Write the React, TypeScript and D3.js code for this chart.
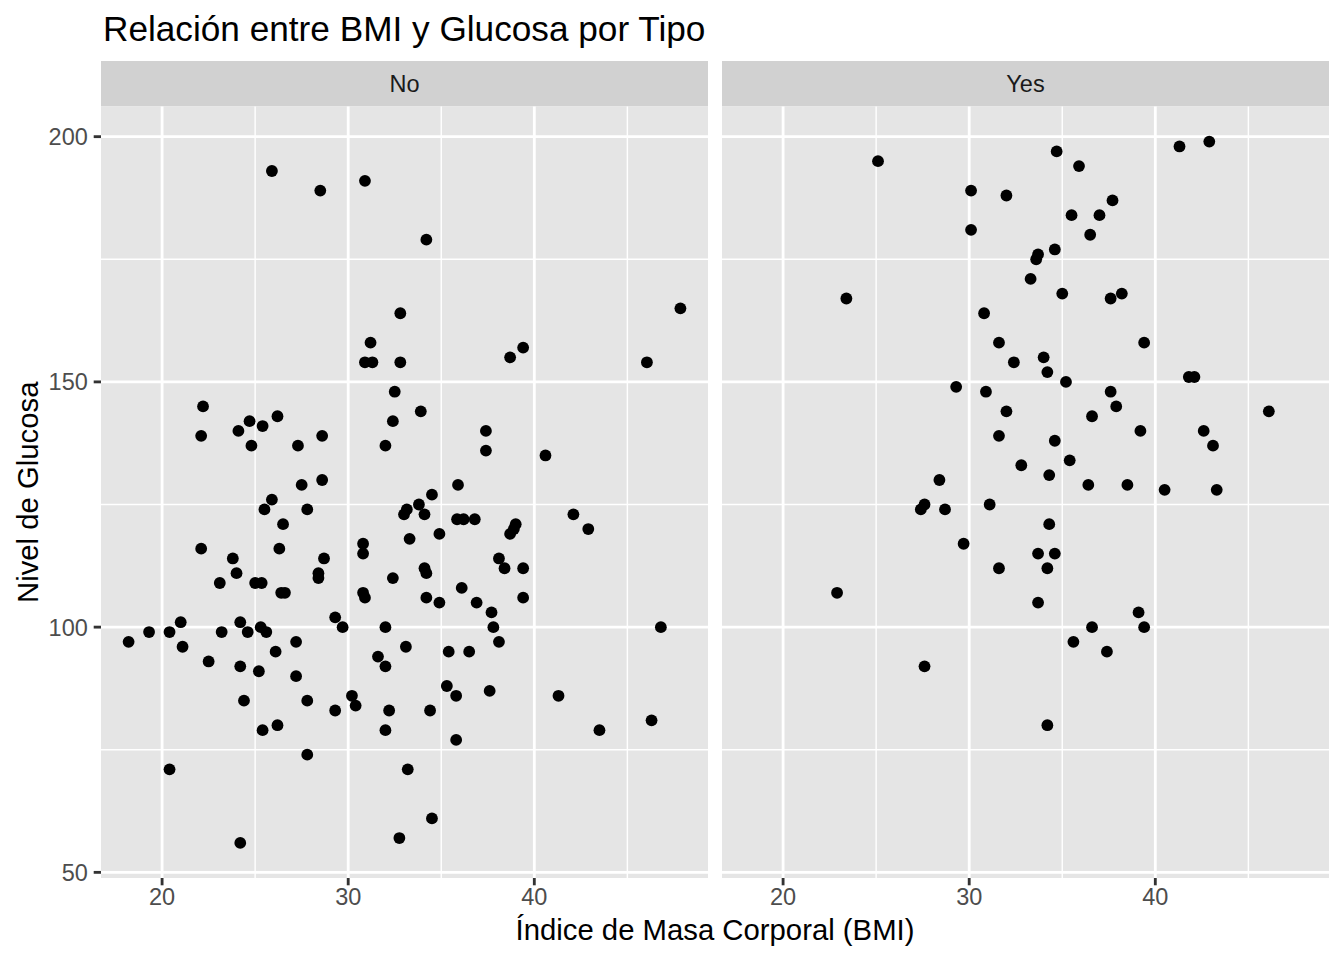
import React from "react";
import * as d3 from "d3";

const facets = ["No", "Yes"];

const noBMI = [25.9, 28.5, 30.9, 32.8, 31.2, 30.9, 31.3, 32.8, 34.2, 47.85, 39.4, 38.7, 46.05, 32.5, 22.2, 24.7, 26.2, 25.4, 24.1, 32.4, 22.1, 24.8, 27.3, 28.6, 32.0, 27.5, 28.6, 25.9, 25.5, 27.8, 26.5, 33.0, 33.15, 22.1, 26.3, 30.8, 30.8, 23.8, 28.7, 24.0, 28.4, 28.4, 23.1, 25.0, 25.35, 26.4, 26.6, 30.8, 30.9, 32.4, 29.3, 29.7, 32.0, 21.0, 24.2, 25.3, 19.3, 20.4, 23.2, 24.6, 25.6, 18.2, 21.1, 22.5, 24.2, 25.2, 26.1, 27.2, 27.2, 24.4, 27.8, 25.4, 26.2, 27.8, 29.3, 30.2, 30.4, 31.6, 32.0, 32.2, 32.0, 33.1, 33.2, 20.4, 24.2, 32.75, 35.4, 36.5, 38.1, 37.8, 35.3, 35.8, 37.6, 34.4, 35.8, 41.3, 43.5, 46.3, 34.5, 46.8, 33.9, 37.4, 37.4, 40.6, 35.9, 34.5, 33.8, 34.1, 35.85, 36.2, 36.8, 39.0, 38.9, 38.7, 34.9, 33.3, 38.1, 38.4, 39.4, 34.1, 34.2, 36.1, 34.2, 34.9, 36.9, 39.4, 37.7, 42.1, 42.9];
const noGlucose = [193, 189, 191, 164, 158, 154, 154, 154, 179, 165, 157, 155, 154, 148, 145, 142, 143, 141, 140, 142, 139, 137, 137, 139, 137, 129, 130, 126, 124, 124, 121, 123, 124, 116, 116, 117, 115, 114, 114, 111, 111, 110, 109, 109, 109, 107, 107, 107, 106, 110, 102, 100, 100, 101, 101, 100, 99, 99, 99, 99, 99, 97, 96, 93, 92, 91, 95, 97, 90, 85, 85, 79, 80, 74, 83, 86, 84, 94, 92, 83, 79, 96, 71, 71, 56, 57, 95, 95, 97, 100, 88, 86, 87, 83, 77, 86, 79, 81, 61, 100, 144, 140, 136, 135, 129, 127, 125, 123, 122, 122, 122, 121, 120, 119, 119, 118, 114, 112, 112, 112, 111, 108, 106, 105, 105, 106, 103, 123, 120];

const yesBMI = [25.1, 30.1, 32.0, 30.1, 23.4, 33.3, 30.8, 31.6, 32.4, 29.3, 30.9, 32.0, 31.6, 32.8, 28.4, 34.7, 35.9, 41.3, 42.9, 37.7, 35.5, 37.0, 36.5, 34.6, 33.7, 33.6, 35.0, 37.6, 38.2, 39.4, 34.0, 34.2, 35.2, 41.8, 42.1, 37.6, 37.9, 36.6, 46.1, 39.2, 42.6, 34.6, 43.1, 35.4, 34.3, 36.4, 38.5, 40.5, 43.3, 27.4, 27.6, 28.7, 31.1, 29.7, 31.6, 22.9, 27.6, 34.3, 33.7, 34.6, 34.2, 33.7, 39.1, 39.4, 36.6, 35.6, 37.4, 34.2];
const yesGlucose = [195, 189, 188, 181, 167, 171, 164, 158, 154, 149, 148, 144, 139, 133, 130, 197, 194, 198, 199, 187, 184, 184, 180, 177, 176, 175, 168, 167, 168, 158, 155, 152, 150, 151, 151, 148, 145, 143, 144, 140, 140, 138, 137, 134, 131, 129, 129, 128, 128, 124, 125, 124, 125, 117, 112, 107, 92, 121, 115, 115, 112, 105, 103, 100, 100, 97, 95, 80];

const xTicks = [20, 30, 40];
const xMinor = [25, 35, 45];
const yTicks = [50, 100, 150, 200];
const yMinor = [75, 125, 175];

const title = "Relación entre BMI y Glucosa por Tipo";
const xTitle = "Índice de Masa Corporal (BMI)";
const yTitle = "Nivel de Glucosa";

const W = 1344;
const H = 960;
const FONT = "'Liberation Sans', Arial, Helvetica, sans-serif";

function expand(vals: number[]): [number, number] {
  const mn = d3.min(vals) as number;
  const mx = d3.max(vals) as number;
  const r = mx - mn;
  return [mn - 0.05 * r, mx + 0.05 * r];
}

export default function App() {
  const allX = [...noBMI, ...yesBMI];
  const allY = [...noGlucose, ...yesGlucose];
  const panelTop = 106.5;
  const panelBottom = 878;
  const panelW = 607;
  const panelLefts = [101, 722];
  const stripTop = 61;

  const y = d3.scaleLinear().domain(expand(allY)).range([panelBottom, panelTop]);
  const data = [
    { xs: noBMI, ys: noGlucose },
    { xs: yesBMI, ys: yesGlucose },
  ];

  return (
    <svg width={W} height={H} style={{ display: "block", position: "absolute", left: 0, top: 0, background: "#fff" }}>
      <rect x={0} y={0} width={W} height={H} fill="#fff" />
      <text x={103} y={41} fontFamily={FONT} fontSize={35.2} fill="#000">{title}</text>
      {facets.map((f, i) => {
        const left = panelLefts[i];
        const x = d3.scaleLinear().domain(expand(allX)).range([left, left + panelW]);
        const d = data[i];
        return (
          <g key={f}>
            <rect x={left} y={stripTop} width={panelW} height={panelTop - stripTop} fill="#D1D1D1" />
            <text x={left + panelW / 2} y={(stripTop + panelTop) / 2} dy="0.36em" textAnchor="middle" fontFamily={FONT} fontSize={23.5} fill="#1A1A1A">{f}</text>
            <rect x={left} y={panelTop} width={panelW} height={panelBottom - panelTop} fill="#E5E5E5" />
            {yMinor.map((t) => (
              <line key={"ym" + t} x1={left} x2={left + panelW} y1={y(t)} y2={y(t)} stroke="#fff" strokeWidth={1.42} />
            ))}
            {xMinor.map((t) => (
              <line key={"xm" + t} x1={x(t)} x2={x(t)} y1={panelTop} y2={panelBottom} stroke="#fff" strokeWidth={1.42} />
            ))}
            {yTicks.map((t) => (
              <line key={"y" + t} x1={left} x2={left + panelW} y1={y(t)} y2={y(t)} stroke="#fff" strokeWidth={2.84} />
            ))}
            {xTicks.map((t) => (
              <line key={"x" + t} x1={x(t)} x2={x(t)} y1={panelTop} y2={panelBottom} stroke="#fff" strokeWidth={2.84} />
            ))}
            {d.xs.map((v, j) => (
              <circle key={j} cx={x(v)} cy={y(d.ys[j])} r={5.9} fill="#000" />
            ))}
            {xTicks.map((t) => (
              <g key={"xt" + t}>
                <line x1={x(t)} x2={x(t)} y1={panelBottom} y2={panelBottom + 7.3} stroke="#333" strokeWidth={2.84} />
                <text x={x(t)} y={905} textAnchor="middle" fontFamily={FONT} fontSize={23.5} fill="#4D4D4D">{t}</text>
              </g>
            ))}
          </g>
        );
      })}
      {yTicks.map((t) => (
        <g key={"yt" + t}>
          <line x1={101 - 7.3} x2={101} y1={y(t)} y2={y(t)} stroke="#333" strokeWidth={2.84} />
          <text x={87.8} y={y(t)} dy="0.36em" textAnchor="end" fontFamily={FONT} fontSize={23.5} fill="#4D4D4D">{t}</text>
        </g>
      ))}
      <text x={715} y={940} textAnchor="middle" fontFamily={FONT} fontSize={29.3} fill="#000">{xTitle}</text>
      <text transform={`translate(38,${(panelTop + panelBottom) / 2}) rotate(-90)`} textAnchor="middle" fontFamily={FONT} fontSize={29.3} fill="#000">{yTitle}</text>
    </svg>
  );
}
